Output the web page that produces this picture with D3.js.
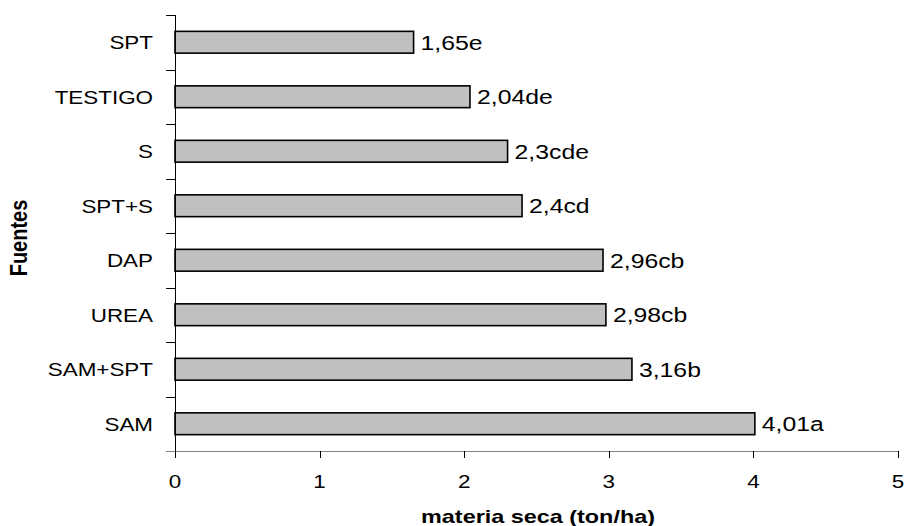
<!DOCTYPE html>
<html><head><meta charset="utf-8">
<script src="https://cdn.jsdelivr.net/npm/d3@7"></script>
<style>body{margin:0;background:#fff}svg{display:block}text{font-family:"Liberation Sans",Arial,sans-serif;fill:#000}</style>
</head><body><svg id="c" width="904" height="526"></svg>
<script>
const categories = ["SPT","TESTIGO","S","SPT+S","DAP","UREA","SAM+SPT","SAM"];
const values = [1.65,2.04,2.3,2.4,2.96,2.98,3.16,4.01];
const labels = ["1,65e","2,04de","2,3cde","2,4cd","2,96cb","2,98cb","3,16b","4,01a"];
const xTicks = [0,1,2,3,4,5];

const SX = 1.18; // horizontal stretch of the reference lettering
const svg = d3.select("#c");
const x = d3.scaleLinear().domain([0,5]).range([175,898]);
const yb = d3.scaleBand().domain(categories).range([15,451]);
const yc = d3.scaleBand().domain(categories).range([15,451]).paddingInner(0.6).paddingOuter(0.3);

function stxt(sel, px, py, anchor, size, weight){
  sel.attr("transform",(d,i)=>`translate(${px(d,i)},${py(d,i)}) scale(${SX},1)`)
    .attr("text-anchor",anchor).attr("font-size",size).attr("font-weight",weight||"normal");
  return sel;
}

// bars
svg.selectAll("rect.bar").data(categories).join("rect").attr("class","bar")
  .attr("x", x(0)).attr("y", d=>yc(d))
  .attr("width", (d,i)=>x(values[i])-x(0)).attr("height", yc.bandwidth())
  .attr("fill","#c0c0c0").attr("stroke","#000").attr("stroke-width",1.6);

// value labels
stxt(svg.selectAll("text.val").data(categories).join("text").attr("class","val")
  .attr("dy","0.36em").text((d,i)=>labels[i]),
  (d,i)=>x(values[i])+7, d=>yb(d)+yb.bandwidth()/2, "start", 21);

// y axis
svg.append("line").attr("x1",175.5).attr("x2",175.5).attr("y1",15).attr("y2",458).attr("stroke","#000");
const yTickPos = categories.map(c=>yb(c)).concat([451]);
svg.selectAll("line.yt").data(yTickPos).join("line").attr("class","yt")
  .attr("x1",166).attr("x2",175).attr("y1",d=>Math.round(d)+0.5).attr("y2",d=>Math.round(d)+0.5)
  .attr("stroke","#000");
stxt(svg.selectAll("text.cat").data(categories).join("text").attr("class","cat")
  .attr("dy","0.36em").text(d=>d),
  d=>153, d=>yb(d)+yb.bandwidth()/2, "end", 19);

// x axis
svg.append("line").attr("x1",166).attr("x2",898).attr("y1",451.5).attr("y2",451.5).attr("stroke","#808080");
svg.selectAll("line.xt").data(xTicks).join("line").attr("class","xt")
  .attr("x1",d=>Math.round(x(d))+0.5).attr("x2",d=>Math.round(x(d))+0.5).attr("y1",451).attr("y2",458)
  .attr("stroke","#000");
stxt(svg.selectAll("text.xl").data(xTicks).join("text").attr("class","xl").text(d=>d),
  d=>x(d), d=>488, "middle", 19);

svg.append("text").attr("transform",`translate(538,523) scale(1.3,1)`).attr("text-anchor","middle")
  .attr("font-size",18).attr("font-weight","bold").text("materia seca (ton/ha)");
svg.append("text").attr("transform","translate(27,238) rotate(-90) scale(1,1.15)").attr("text-anchor","middle")
  .attr("font-size",20).attr("font-weight","bold").text("Fuentes");
</script></body></html>
